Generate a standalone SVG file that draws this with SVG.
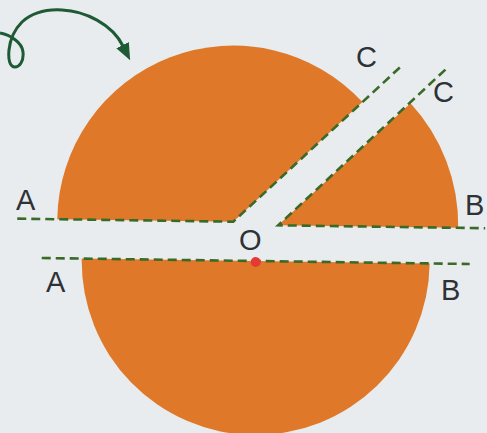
<svg xmlns="http://www.w3.org/2000/svg" width="487" height="433" viewBox="0 0 487 433">
<style>
.piece{fill:#DF7828;}
.dash{fill:none;stroke:#3A6A28;stroke-width:2.6;stroke-dasharray:9 5;}
.lbl{font-family:"Liberation Sans",Arial,sans-serif;font-size:29px;fill:#2E3236;}
</style>
<defs>
<marker id="ah" viewBox="0 0 17 14" refX="1" refY="7" markerWidth="17" markerHeight="14" orient="auto" markerUnits="userSpaceOnUse">
<path d="M0,0 L17,7 L0,14 Z" fill="#1E5A33"/>
</marker>
</defs>
<rect width="487" height="433" fill="#E8ECEE"/>
<g transform="rotate(0.8 256 240)">
<g id="piece-top-left"><path class="piece" d="M233,222 L57,222 A176,176 0 0 1 360.5,100.6 Z"/></g>
<g id="piece-top-right"><path class="piece" d="M278,225 L408.6,101.1 A180,180 0 0 1 458,225 Z"/></g>
<g id="piece-bottom"><path class="piece" d="M82,261 L430,261 A174,174 0 0 1 82,261 Z"/></g>
<g id="connectors">
<path class="dash" d="M17,222 L233,222 L400,63"/>
<path class="dash" d="M443,67 L278,225 L485,225"/>
<path class="dash" d="M42,261 L470,261"/>
</g>
<g id="point-O"><circle cx="256" cy="262" r="5" fill="#E53935"/></g>
</g>
<g id="arrow">
<path d="M0,33 C10,35 22,42 23,52 C24,62 19,67 15,67 C10,67 8,60 9,50 C10,40 14,30 22,22 C32,13 45,9 62,10 C85,11 112,24 123,46" fill="none" stroke="#1E5A33" stroke-width="3" marker-end="url(#ah)"/>
</g>
<g id="labels">
<text class="lbl" x="16" y="210">A</text>
<text class="lbl" x="46" y="292">A</text>
<text class="lbl" x="239" y="250">O</text>
<text class="lbl" x="465" y="215">B</text>
<text class="lbl" x="441" y="300">B</text>
<text class="lbl" x="356" y="67">C</text>
<text class="lbl" x="433" y="102">C</text>
</g>
</svg>
